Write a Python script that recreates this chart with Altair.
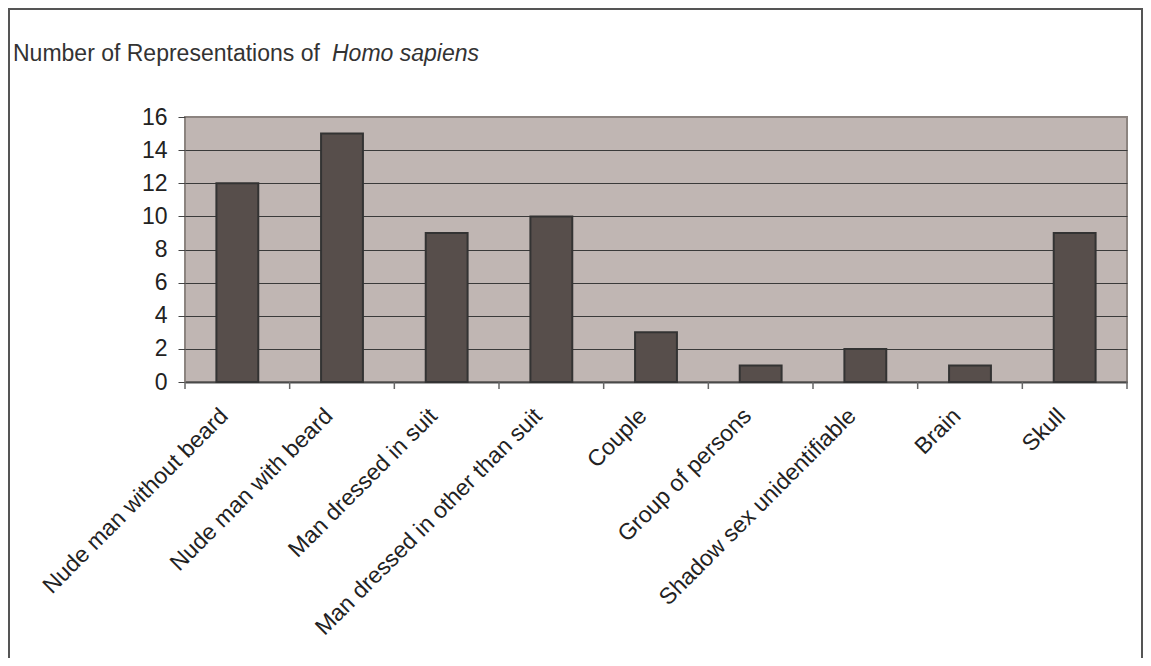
import altair as alt
import pandas as pd

categories = ["Nude man without beard", "Nude man with beard", "Man dressed in suit",
              "Man dressed in other than suit", "Couple", "Group of persons",
              "Shadow sex unidentifiable", "Brain", "Skull"]
counts = [12, 15, 9, 10, 3, 1, 2, 1, 9]
y_ticks = [0, 2, 4, 6, 8, 10, 12, 14, 16]
title_plain = "Number of Representations of"
title_italic = "Homo sapiens"

df = pd.DataFrame({"category": categories, "count": counts})
tick_df = pd.DataFrame({"category": categories})
last_df = pd.DataFrame({"category": categories[-1:]})

W, H = 942, 265
FONT = "Liberation Sans"

x_scale = alt.Scale(domain=categories, paddingInner=0, paddingOuter=0)
y_scale = alt.Scale(domain=[0, 16], nice=False)

x_axis = alt.Axis(labelAngle=-45, labelAlign="right", labelBaseline="middle",
                  labelPadding=30, labelOffset=-13, ticks=False, tickSize=0,
                  domainColor="#4a4a4a", domainWidth=2, labelFontSize=23,
                  labelColor="#222222", labelFont=FONT, labelLimit=400)

bars = alt.Chart(df).mark_bar(
    width=alt.RelativeBandSize(band=0.40), fill="#574E4B", stroke="#333333", strokeWidth=2
).encode(
    x=alt.X("category:N", sort=categories, scale=x_scale, title=None, axis=x_axis),
    y=alt.Y("count:Q", scale=y_scale, title=None,
            axis=alt.Axis(values=y_ticks, grid=True,
                          gridColor={"condition": {"test": "datum.value === 16 || datum.value === 0",
                                                   "value": "transparent"},
                                     "value": "#3a3a3a"},
                          gridWidth=1, domain=False, tickSize=7, tickColor="#444444",
                          tickWidth=1, labelPadding=11, labelFontSize=23,
                          labelColor="#222222", labelFont=FONT))
)

ticks_start = alt.Chart(tick_df).mark_rule(color="#666666", strokeWidth=1.5).encode(
    x=alt.X("category:N", sort=categories, scale=x_scale, bandPosition=0, title=None, axis=x_axis),
    y=alt.value(H), y2=alt.value(H + 7)
)
ticks_end = alt.Chart(last_df).mark_rule(color="#666666", strokeWidth=1.5).encode(
    x=alt.X("category:N", sort=categories, scale=x_scale, bandPosition=1, title=None, axis=x_axis),
    y=alt.value(H), y2=alt.value(H + 7)
)

frame = alt.Chart(pd.DataFrame({"k": [0]})).mark_rect(
    filled=False, stroke="#555555", strokeWidth=2
).encode(
    x=alt.value(-176), x2=alt.value(957), y=alt.value(-108), y2=alt.value(620)
)

t1 = alt.Chart(pd.DataFrame({"t": [title_plain]})).mark_text(
    align="left", baseline="alphabetic", fontSize=23, font=FONT, color="#333333"
).encode(x=alt.value(-172), y=alt.value(-56), text="t:N")

t2 = alt.Chart(pd.DataFrame({"t": [title_italic]})).mark_text(
    align="left", baseline="alphabetic", fontSize=23, font=FONT, color="#333333",
    fontStyle="italic"
).encode(x=alt.value(147), y=alt.value(-56), text="t:N")

chart = alt.layer(frame, bars, ticks_start, ticks_end, t1, t2).properties(
    width=W, height=H, background="white",
    padding={"left": 177, "top": 109, "right": 16, "bottom": 276},
    autosize=alt.AutoSizeParams(type="none"),
).configure_view(
    fill="#C0B6B3", stroke="#8C8480", strokeWidth=2
)

chart.save("out.html", embed_options={"renderer": "svg", "actions": False})
